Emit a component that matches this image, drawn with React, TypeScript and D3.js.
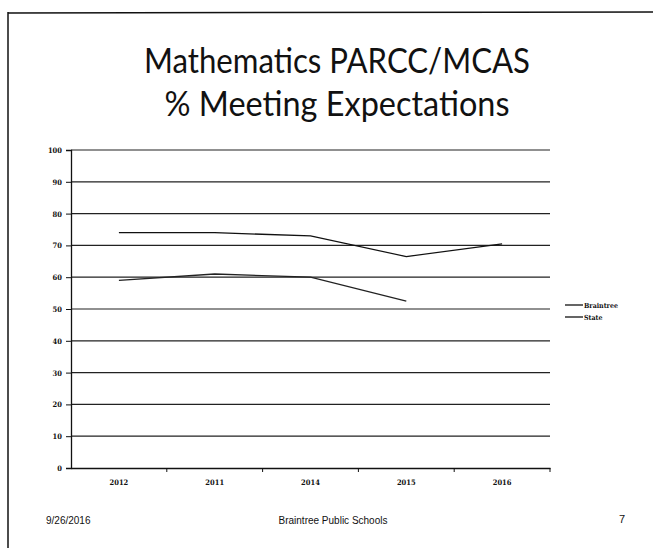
import React, { useEffect, useRef } from "react";
import * as d3 from "d3";

const years = ["2012", "2011", "2014", "2015", "2016"];
const braintree = [74, 74, 73, 66.5, 70.5];
const state = [59, 61, 60, 52.5];
const yTicks = [0, 10, 20, 30, 40, 50, 60, 70, 80, 90, 100];
const seriesNames = ["Braintree", "State"];

const App = () => {
    const ref = useRef<SVGSVGElement>(null);

    useEffect(() => {
        document.body.style.margin = "0";
        const svg = d3.select(ref.current);
        svg.selectAll("*").remove();

        const width = 653;
        const height = 548;
        const left = 71;
        const right = 550;
        const top = 150;
        const bottom = 468;

        svg.attr("width", width).attr("height", height).style("background-color", "white");

        // slide frame
        svg.append("line").attr("x1", 8).attr("x2", 8).attr("y1", 12).attr("y2", height)
            .attr("stroke", "#111").attr("stroke-width", 1.5);
        svg.append("line").attr("x1", 8).attr("x2", width).attr("y1", 13).attr("y2", 12)
            .attr("stroke", "#111").attr("stroke-width", 1.5);

        // title
        svg.append("text")
            .text("Mathematics PARCC/MCAS")
            .attr("x", 337).attr("y", 73)
            .attr("text-anchor", "middle")
            .attr("textLength", 386).attr("lengthAdjust", "spacingAndGlyphs")
            .style("font-family", "Lato, 'Open Sans', sans-serif")
            .style("font-size", "35px")
            .style("fill", "#111");
        svg.append("text")
            .text("% Meeting Expectations")
            .attr("x", 337).attr("y", 116)
            .attr("text-anchor", "middle")
            .attr("textLength", 345).attr("lengthAdjust", "spacingAndGlyphs")
            .style("font-family", "Lato, 'Open Sans', sans-serif")
            .style("font-size", "35px")
            .style("fill", "#111");

        const xScale = d3.scaleBand().domain(years).range([left, right]);
        const yScale = d3.scaleLinear().domain([0, 100]).range([bottom, top]);

        // gridlines
        svg.append("g")
            .selectAll("line")
            .data(yTicks.filter((t) => t > 0))
            .enter()
            .append("line")
            .attr("x1", left).attr("x2", right)
            .attr("y1", (d) => yScale(d)).attr("y2", (d) => yScale(d))
            .attr("stroke", "#222").attr("stroke-width", 1.2);

        const yAxis = d3.axisLeft(yScale).tickValues(yTicks).tickSize(5).tickPadding(4);
        const yG = svg.append("g")
            .attr("transform", "translate(" + left + ",0)")
            .call(yAxis);
        yG.select(".domain").attr("stroke", "#111").attr("stroke-width", 1.3);
        yG.selectAll(".tick line").attr("stroke", "#111");
        yG.selectAll("text")
            .style("font-family", "'DejaVu Serif Condensed', 'DejaVu Serif', serif")
            .style("font-size", "7.5px")
            .style("font-weight", "bold")
            .style("fill", "#111");

        const xAxis = d3.axisBottom(xScale).tickSize(0).tickPadding(12);
        const xG = svg.append("g")
            .attr("transform", "translate(0," + bottom + ")")
            .call(xAxis);
        xG.select(".domain").attr("stroke", "#111").attr("stroke-width", 1.3);
        xG.selectAll("text")
            .style("font-family", "'DejaVu Serif Condensed', 'DejaVu Serif', serif")
            .style("font-size", "7.5px")
            .style("font-weight", "bold")
            .style("fill", "#111");

        // band boundary ticks
        xG.append("g")
            .selectAll("line")
            .data(years)
            .enter()
            .append("line")
            .attr("x1", (d) => (xScale(d) as number) + xScale.bandwidth())
            .attr("x2", (d) => (xScale(d) as number) + xScale.bandwidth())
            .attr("y1", 0).attr("y2", 4)
            .attr("stroke", "#111");

        const line = d3.line<number>()
            .x((d, i) => (xScale(years[i]) as number) + xScale.bandwidth() / 2)
            .y((d) => yScale(d));

        svg.append("path")
            .datum(braintree)
            .attr("d", line)
            .attr("fill", "none")
            .attr("stroke", "#111")
            .attr("stroke-width", 1.3);
        svg.append("path")
            .datum(state)
            .attr("d", line)
            .attr("fill", "none")
            .attr("stroke", "#222")
            .attr("stroke-width", 1.3);

        // legend
        const legend = svg.append("g").attr("transform", "translate(565,305)");
        seriesNames.forEach((name, i) => {
            legend.append("line")
                .attr("x1", 0).attr("x2", 18)
                .attr("y1", i * 12).attr("y2", i * 12)
                .attr("stroke", "#111").attr("stroke-width", 1.3);
            legend.append("text")
                .text(name)
                .attr("x", 19).attr("y", i * 12 + 2.5)
                .style("font-family", "'DejaVu Serif Condensed', 'DejaVu Serif', serif")
                .style("font-size", "7px")
                .style("font-weight", "bold")
                .style("fill", "#111");
        });

        // footer
        svg.append("text")
            .text("9/26/2016")
            .attr("x", 46).attr("y", 524)
            .style("font-family", "'Liberation Sans', Arial, sans-serif")
            .style("font-size", "10px")
            .style("fill", "#111");
        svg.append("text")
            .text("Braintree Public Schools")
            .attr("x", 333).attr("y", 524)
            .attr("text-anchor", "middle")
            .style("font-family", "'Liberation Sans', Arial, sans-serif")
            .style("font-size", "10px")
            .style("fill", "#111");
        svg.append("text")
            .text("7")
            .attr("x", 619).attr("y", 523)
            .style("font-family", "'Liberation Sans', Arial, sans-serif")
            .style("font-size", "11px")
            .style("fill", "#111");
    }, []);

    return <svg ref={ref}></svg>;
};

export default App;
